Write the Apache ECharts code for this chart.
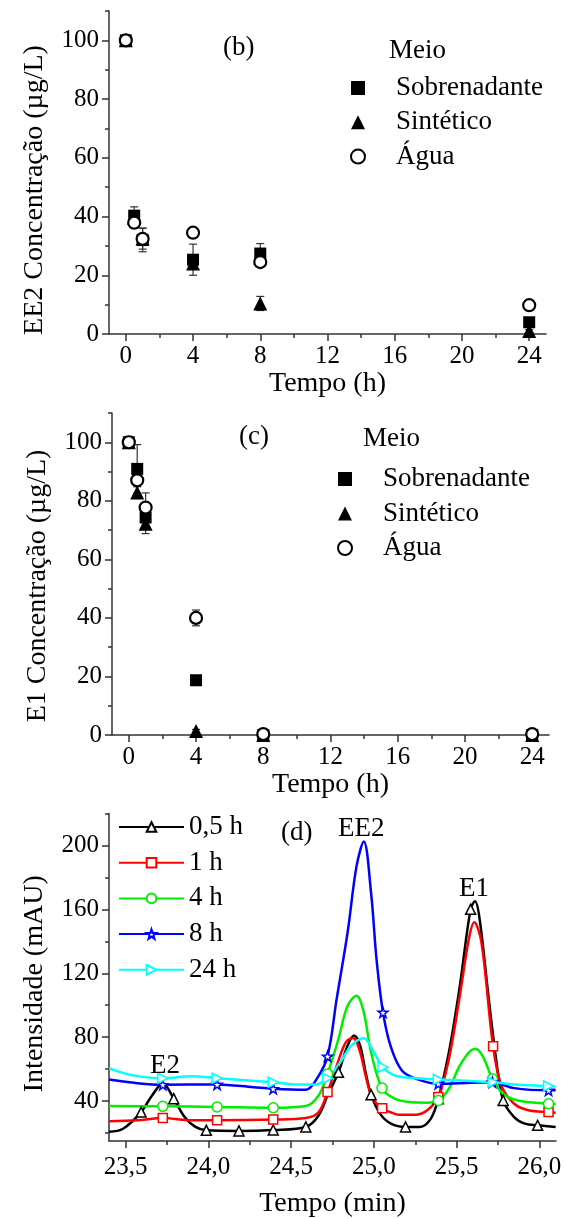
<!DOCTYPE html>
<html><head><meta charset="utf-8">
<script src="https://cdn.jsdelivr.net/npm/echarts@6/dist/echarts.min.js"></script>
<style>html,body{margin:0;padding:0;background:#fff}#c{width:566px;height:1219px}</style>
</head><body><div id="c"></div>
<script>
// ---------- Panel (b): EE2 ----------
const timeH = [0, 0.5, 1, 4, 8, 24];
const ee2Sobrenadante = [100, 40.3, 32, 25.3, 27.4, 4];
const ee2SobrenadanteErr = [0.8, 3, 4, 5.3, 3.4, 0.6];
const ee2Sintetico = [100, 39.5, 32.5, 24, 10.4, 1];
const ee2SinteticoErr = [1.5, 1, 3.6, 2, 2.4, 0.5];
const ee2Agua = [100, 37.9, 32.4, 34.5, 24.5, 9.8];
const ee2AguaErr = [0.8, 1, 1, 1.2, 1, 0.8];
// ---------- Panel (c): E1 ----------
const e1Sobrenadante = [100, 90.9, 74.3, 18.7, 0, 0];
const e1SobrenadanteErr = [1, 8.3, 4, 0.8, 0, 0];
const e1Sintetico = [100, 82.8, 72.2, 1.4, 0, 0];
const e1SinteticoErr = [2, 2, 3.4, 0.5, 0, 0];
const e1Agua = [100, 87, 77.7, 40, 0.3, 0.3];
const e1AguaErr = [1, 1, 5, 2.7, 0.5, 0.5];
const hourTicks = [0, 4, 8, 12, 16, 20, 24];
const hourMinorTicks = [2, 6, 10, 14, 18, 22];
const concTicks = [0, 20, 40, 60, 80, 100];
const concMinorTicks = [10, 30, 50, 70, 90, 110];
// ---------- Panel (d): chromatograms ----------
const t05 = [23.40,23.485,23.594,23.66,23.725,23.791,23.857,23.922,23.988,24.185,24.392,24.589,24.666,24.72,24.786,24.841,24.88,24.917,24.95,24.983,25.038,25.103,25.191,25.278,25.344,25.389,25.453,25.519,25.584,25.611,25.639,25.694,25.738,25.781,25.847,25.912,25.989,26.098];
const v05 = [20.8,22.7,33.1,43.5,51.0,41.5,30,23.8,21.7,21.3,21.9,23.8,31,43.5,58,74.7,81,74.7,58,44,32,25.9,23.8,23.8,29,41.5,70.5,112,160,165,153.7,103.8,66.4,40.4,30,25.9,24.8,23.8];
const m05 = [23.594,23.791,23.988,24.185,24.392,24.589,24.786,24.983,25.191,25.389,25.584,25.781,25.989];
const t1 = [23.40,23.572,23.725,23.878,24.053,24.392,24.589,24.666,24.72,24.775,24.83,24.874,24.917,24.95,24.99,25.05,25.10,25.147,25.256,25.322,25.389,25.453,25.519,25.573,25.606,25.65,25.72,25.77,25.847,25.934,26.055,26.098];
const v1 = [27.3,28,29.4,28,28,28.4,29.4,33,45.6,62,76.8,79.5,70.5,56,42,35.5,33,31.5,31.5,34.2,42.5,66.4,105.9,141.2,152,139,74.3,49.8,38.3,34.2,33.1,32.7];
const m1 = [23.725,24.053,24.392,24.72,25.05,25.389,25.72,26.055];
const t4 = [23.40,23.725,24.053,24.392,24.589,24.666,24.72,24.786,24.841,24.895,24.939,24.983,25.049,25.125,25.213,25.322,25.389,25.453,25.519,25.584,25.617,25.661,25.716,25.781,25.869,26.055,26.098];
const v4 = [36.9,36.7,36.3,35.8,36.9,43.5,57,78.9,99.6,105.9,95.5,70.5,48.1,41.5,39.4,39,40.4,47.7,62.2,71.6,72.6,67.4,53.9,44.6,40.4,38.3,38.1];
const m4 = [23.725,24.053,24.392,24.72,25.049,25.389,25.716,26.055];
const t8 = [23.40,23.572,23.725,24.053,24.272,24.392,24.589,24.655,24.72,24.775,24.841,24.895,24.939,24.983,25.016,25.055,25.103,25.169,25.256,25.389,25.584,25.716,25.847,26.055,26.098];
const v8 = [53.5,51.2,50.2,50.4,48.7,47.7,47.1,53.9,68,103.8,145.4,186.9,202.5,170.3,128.7,95.5,73.7,59.1,53.9,50.8,51.4,51.8,48.1,46.7,46.7];
const m8 = [23.725,24.053,24.392,24.72,25.055,25.389,25.716,26.055];
const t24 = [23.40,23.528,23.725,23.90,24.053,24.392,24.535,24.644,24.72,24.797,24.863,24.939,24.994,25.055,25.125,25.256,25.389,25.584,25.72,25.847,26.055,26.098];
const v24 = [60.6,56.4,54.3,55.6,54.3,51.8,50.4,50.4,54.3,64.3,74.7,79.3,71.6,61.2,56,54.3,53.5,52.5,51.8,50.4,49.4,49.1];
const m24 = [23.725,24.053,24.392,24.72,25.055,25.389,25.72,26.055];
const minTicks = [23.5, 24.0, 24.5, 25.0, 25.5, 26.0];
const minMinorTicks = [23.75, 24.25, 24.75, 25.25, 25.75];
const mauTicks = [40, 80, 120, 160, 200];
const mauMinorTicks = [20, 60, 100, 140, 180, 220];

const FONT = "'Liberation Serif','Times New Roman',serif";
const AXC = '#333';
const txt = (s) => ({fontFamily: FONT, fontSize: s, fontWeight: 'normal', color: '#000'});

function mainX(grid, min, max, ticks, fmt, margin, name, nameGap) {
  return {type:'value', gridIndex:grid, position:'bottom', min, max,
    axisLine:{show:true, onZero:false, lineStyle:{color:AXC, width:1.5}},
    axisTick:{show:true, inside:false, length:7, customValues:ticks, lineStyle:{color:AXC, width:1.5}},
    axisLabel:{show:true, customValues:ticks, margin, formatter:fmt, ...txt(25)},
    splitLine:{show:false}, name, nameLocation:'middle', nameGap, nameTextStyle:txt(28)};
}
function minorX(grid, min, max, ticks) {
  return {type:'value', gridIndex:grid, position:'bottom', min, max,
    axisLine:{show:false, onZero:false}, axisTick:{show:true, inside:false, length:4, customValues:ticks, lineStyle:{color:AXC, width:1.5}},
    axisLabel:{show:false, customValues:ticks}, splitLine:{show:false}};
}
function mainY(grid, min, max, ticks, name, nameGap, shift) {
  return {type:'value', gridIndex:grid, position:'left', min, max,
    axisLine:{show:true, onZero:false, lineStyle:{color:AXC, width:1.5}},
    axisTick:{show:true, inside:false, length:7, customValues:ticks, lineStyle:{color:AXC, width:1.5}},
    axisLabel:{show:true, customValues:ticks, margin:10, ...txt(25)},
    splitLine:{show:false}, name, nameLocation:'middle', nameGap,
    nameTextStyle:Object.assign(txt(28), {padding:[0, shift, 0, 0]})};
}
function minorY(grid, min, max, ticks) {
  return {type:'value', gridIndex:grid, position:'left', min, max,
    axisLine:{show:false, onZero:false}, axisTick:{show:true, inside:false, length:4, customValues:ticks, lineStyle:{color:AXC, width:1.5}},
    axisLabel:{show:false, customValues:ticks}, splitLine:{show:false}};
}

function errSeries(axisIdx, ys, es) {
  return {type:'custom', xAxisIndex:axisIdx, yAxisIndex:axisIdx, z:1, silent:true,
    data: timeH.map((t, i) => [t, ys[i] - es[i], ys[i] + es[i]]),
    renderItem: (params, api) => {
      const x = api.value(0);
      const a = api.coord([x, api.value(2)]);
      const b = api.coord([x, api.value(1)]);
      const w = 4, st = {stroke:'#333', lineWidth:1.2};
      return {type:'group', children:[
        {type:'line', shape:{x1:a[0], y1:a[1], x2:b[0], y2:b[1]}, style:st},
        {type:'line', shape:{x1:a[0]-w, y1:a[1], x2:a[0]+w, y2:a[1]}, style:st},
        {type:'line', shape:{x1:b[0]-w, y1:b[1], x2:b[0]+w, y2:b[1]}, style:st}
      ]};
    }};
}
function scatterSeries(axisIdx, name, ys) {
  const styles = {
    'Sobrenadante': {symbol:'rect', symbolSize:12, itemStyle:{color:'#000', opacity:1}},
    'Sintético': {symbol:'triangle', symbolSize:14, itemStyle:{color:'#000', opacity:1}},
    'Água': {symbol:'circle', symbolSize:12, itemStyle:{color:'#fff', borderColor:'#000', borderWidth:2.2, opacity:1}}
  };
  return Object.assign({type:'scatter', name, xAxisIndex:axisIdx, yAxisIndex:axisIdx, z:3,
    emphasis:{disabled:true},
    data: timeH.map((t, i) => [t, ys[i]])}, styles[name]);
}
function lineSeries(name, ts, vs, marks, color, symbol, size) {
  return {type:'line', name, xAxisIndex:4, yAxisIndex:4, smooth:0.35, showAllSymbol:true,
    symbol, symbolSize:size, z:3,
    lineStyle:{color, width:2.5}, itemStyle:{color:'#fff', borderColor:color, borderWidth:1.5},
    emphasis:{disabled:true},
    data: ts.map((t, i) => marks.includes(t) ? [t, vs[i]] : {value:[t, vs[i]], symbol:'none'})};
}

const STAR = 'path://M5,0 L6.2,3.6 L10,3.7 L7,6 L8.1,9.6 L5,7.4 L1.9,9.6 L3,6 L0,3.7 L3.8,3.6 Z';
const RTRI = 'path://M0,0 L10,5 L0,10 Z';
const commaFmt = (v) => v.toFixed(1).replace('.', ',');
const legendText = Object.assign(txt(27), {padding:[0, 0, 0, 26]});

const option = {
  animation:false,
  backgroundColor:'#fff',
  grid:[
    {left:109, top:11, width:437, height:323},
    {left:112, top:413, width:437, height:322},
    {left:109, top:813.5, width:447, height:329}
  ],
  xAxis:[
    mainX(0, -1, 25, hourTicks, null, 10, 'Tempo (h)', 35),
    minorX(0, -1, 25, hourMinorTicks),
    mainX(1, -1, 25, hourTicks, null, 10, 'Tempo (h)', 34),
    minorX(1, -1, 25, hourMinorTicks),
    mainX(2, 23.4, 26.1, minTicks, commaFmt, 14, 'Tempo (min)', 49),
    minorX(2, 23.4, 26.1, minMinorTicks)
  ],
  yAxis:[
    mainY(0, 0, 110, concTicks, 'EE2 Concentração (µg/L)', 60, 35),
    minorY(0, 0, 110, concMinorTicks),
    mainY(1, 0, 110, concTicks, 'E1 Concentração (µg/L)', 60, 24),
    minorY(1, 0, 110, concMinorTicks),
    mainY(2, 15, 220, mauTicks, 'Intensidade (mAU)', 60, 13),
    minorY(2, 15, 220, mauMinorTicks)
  ],
  title:[
    {text:'(b)', left:223, top:34, padding:0, textStyle:txt(27)},
    {text:'Meio', left:389, top:37, padding:0, textStyle:txt(27)},
    {text:'(c)', left:239, top:423, padding:0, textStyle:txt(27)},
    {text:'Meio', left:363, top:425, padding:0, textStyle:txt(27)},
    {text:'(d)', left:281, top:819, padding:0, textStyle:txt(27)},
    {text:'EE2', left:338, top:815, padding:0, textStyle:txt(27)},
    {text:'E1', left:459, top:875, padding:0, textStyle:txt(27)},
    {text:'E2', left:150, top:1052, padding:0, textStyle:txt(27)}
  ],
  legend:[
    {orient:'vertical', left:350, top:74.5, padding:0, itemWidth:14, itemHeight:14, itemGap:7.3,
     data:['Sobrenadante','Sintético','Água'], textStyle:legendText, selectedMode:false},
    {orient:'vertical', left:337, top:465.5, padding:0, itemWidth:14, itemHeight:14, itemGap:7.5,
     data:['Sobrenadante','Sintético','Água'], textStyle:legendText, selectedMode:false},
    {orient:'vertical', left:118, top:813.5, padding:0, itemWidth:65, itemHeight:12, itemGap:8.7,
     data:['0,5 h','1 h','4 h','8 h','24 h'], textStyle:txt(27), selectedMode:false}
  ],
  series:[
    errSeries(0, ee2Sobrenadante, ee2SobrenadanteErr),
    errSeries(0, ee2Sintetico, ee2SinteticoErr),
    errSeries(0, ee2Agua, ee2AguaErr),
    scatterSeries(0, 'Sobrenadante', ee2Sobrenadante),
    scatterSeries(0, 'Sintético', ee2Sintetico),
    scatterSeries(0, 'Água', ee2Agua),
    errSeries(2, e1Sobrenadante, e1SobrenadanteErr),
    errSeries(2, e1Sintetico, e1SinteticoErr),
    errSeries(2, e1Agua, e1AguaErr),
    scatterSeries(2, 'Sobrenadante', e1Sobrenadante),
    scatterSeries(2, 'Sintético', e1Sintetico),
    scatterSeries(2, 'Água', e1Agua),
    lineSeries('0,5 h', t05, v05, m05, '#000000', 'triangle', 10),
    lineSeries('1 h', t1, v1, m1, '#ff0000', 'rect', 9),
    lineSeries('4 h', t4, v4, m4, '#00ee00', 'circle', 10),
    lineSeries('8 h', t8, v8, m8, '#0000ff', STAR, 10),
    lineSeries('24 h', t24, v24, m24, '#00ffff', RTRI, 10)
  ]
};
const chart = echarts.init(document.getElementById('c'), null, {renderer:'canvas'});
chart.setOption(option);
</script></body></html>
